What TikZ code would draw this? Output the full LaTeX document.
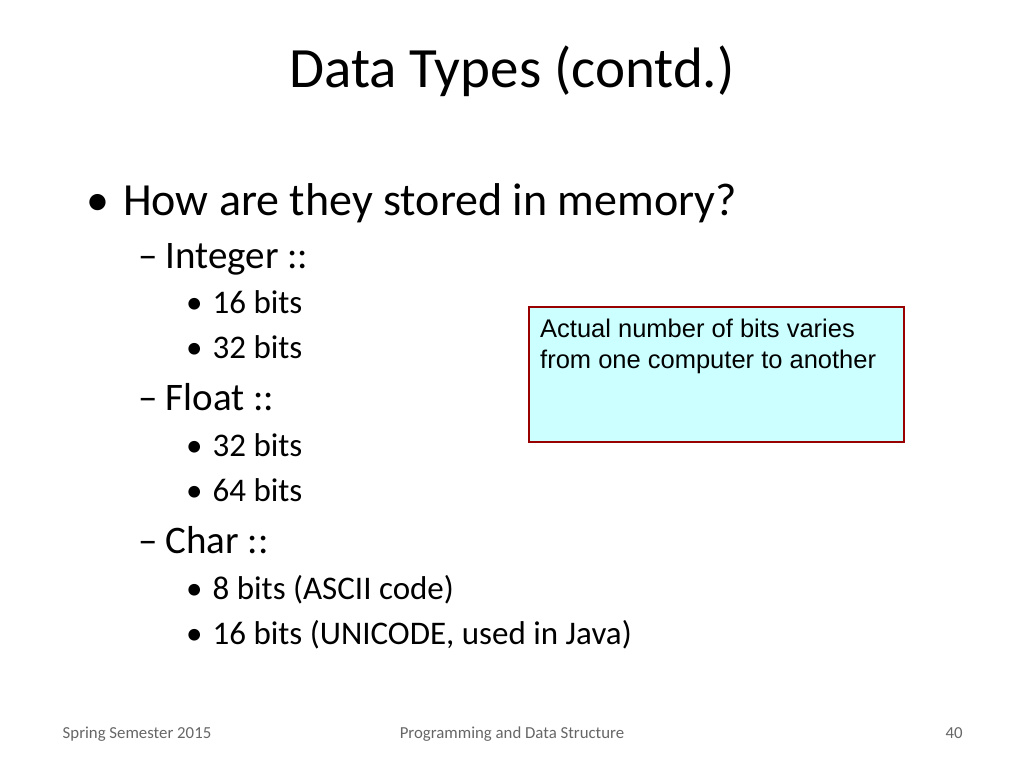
\documentclass[tikz,border=0pt]{standalone}
\usepackage{fontspec}
\setmainfont{Carlito}
\newfontfamily\arialf{Liberation Sans}
\begin{document}
\begin{tikzpicture}[x=1pt,y=-1pt,
  txt/.style={anchor=base west,inner sep=0pt},
  l1/.style={txt,font=\fontsize{46}{50}\selectfont},
  l2/.style={txt,font=\fontsize{39}{44}\selectfont},
  l3/.style={txt,font=\fontsize{33}{38}\selectfont},
  boxt/.style={txt,font=\arialf\fontsize{25.5}{31}\selectfont},
  foot/.style={anchor=base,inner sep=0pt,font=\fontsize{16.8}{19}\selectfont,text=black!60}]
\useasboundingbox (0,0) rectangle (1024,768);
\node[anchor=base,inner sep=0pt,font=\fontsize{57}{64}\selectfont] (title) at (512,87) {Data Types (contd.)};
\node[l1] (b1) at (86,215) {•\hspace{14pt}How are they stored in memory?};
\node[l2] (i) at (138,268) {–\hspace{8pt}Integer ::};
\node[l3] (i1) at (186,313) {•\hspace{10pt}16 bits};
\node[l3] (i2) at (186,358) {•\hspace{10pt}32 bits};
\node[l2] (f) at (138,410) {–\hspace{8pt}Float ::};
\node[l3] (f1) at (186,456) {•\hspace{10pt}32 bits};
\node[l3] (f2) at (186,501) {•\hspace{10pt}64 bits};
\node[l2] (c) at (138,553) {–\hspace{8pt}Char ::};
\node[l3] (c1) at (186,599) {•\hspace{10pt}8 bits (ASCII code)};
\node[l3] (c2) at (186,644) {•\hspace{10pt}16 bits (UNICODE, used in Java)};
\draw[draw={rgb,255:red,153;green,0;blue,0},line width=1.5pt,fill={rgb,255:red,204;green,255;blue,255}] (529,307) rectangle (904,442);
\node[boxt] (box1) at (540,337) {Actual number of bits varies};
\node[boxt] (box2) at (540,368) {from one computer to another};
\node[foot] (fl) at (137,738) {Spring Semester 2015};
\node[foot] (fc) at (512,738) {Programming and Data Structure};
\node[foot] (fr) at (954,738) {40};
\end{tikzpicture}
\end{document}
